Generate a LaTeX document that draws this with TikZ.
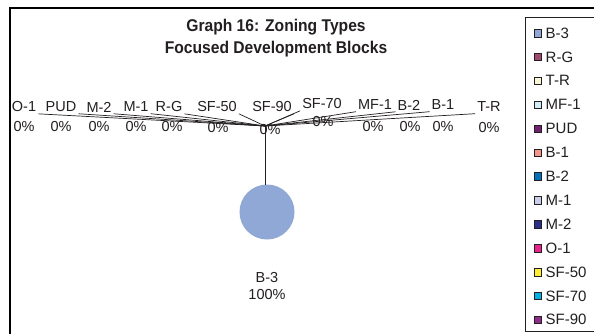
\documentclass[tikz,border=0pt]{standalone}
\usepackage{fontspec}
\setmainfont{Liberation Sans}
\newfontfamily\titlefont[FakeStretch=0.92]{Liberation Sans}
\definecolor{cB3}{RGB}{143,168,214}
\definecolor{cRG}{RGB}{160,72,112}
\definecolor{cTR}{RGB}{248,246,214}
\definecolor{cMF}{RGB}{207,236,247}
\definecolor{cPUD}{RGB}{114,33,112}
\definecolor{cB1}{RGB}{240,150,140}
\definecolor{cB2}{RGB}{0,112,186}
\definecolor{cM1}{RGB}{200,206,232}
\definecolor{cM2}{RGB}{43,47,135}
\definecolor{cO1}{RGB}{232,35,140}
\definecolor{cSFf}{RGB}{255,238,50}
\definecolor{cSFs}{RGB}{0,176,230}
\definecolor{cSFn}{RGB}{140,45,140}
\definecolor{ink}{RGB}{35,31,32}
\begin{document}
\begin{tikzpicture}[x=1pt,y={(0,-1pt)},
  lbl/.style={inner sep=0pt,font=\fontsize{14.5}{17}\selectfont,text=ink},
  ttl/.style={inner sep=0pt,font=\titlefont\fontsize{17}{22.5}\selectfont\bfseries,text=ink,align=center},
  leader/.style={draw=ink,line width=0.7pt},
  legsq/.style={draw=ink,line width=0.4pt,minimum size=7.5pt,inner sep=0pt},
  legtxt/.style={inner sep=0pt,anchor=west,font=\fontsize{15}{17}\selectfont,text=ink}]
\useasboundingbox (0,0) rectangle (594,333);
\fill[white] (0,0) rectangle (594,333);
% chart frame
\draw[line width=2.6pt,black] (10,345) -- (10,8) -- (605,8);
% legend box
\draw[line width=0.7pt,ink] (605,17) -- (525,17) -- (525,331) -- (605,331);
% title
\node[ttl] (title) at (276,38) {Graph 16: Zoning Types\\Focused Development Blocks};
% center point and pie
\coordinate (ctr) at (265,126);
\node[circle,fill=cB3,minimum size=55pt,inner sep=0pt] (pie) at (267,212) {};
\draw[leader] (ctr) -- (265,185);
% labels - names
\node[lbl] (nO1) at (24,107) {O-1};
\node[lbl] (nPUD) at (61,107) {PUD};
\node[lbl] (nM2) at (99,107) {M-2};
\node[lbl] (nM1) at (136,107) {M-1};
\node[lbl] (nRG) at (169,107) {R-G};
\node[lbl] (nSFf) at (217,107) {SF-50};
\node[lbl] (nSFn) at (272,107) {SF-90};
\node[lbl] (nSFs) at (322,104) {SF-70};
\node[lbl] (nMF) at (375,105) {MF-1};
\node[lbl] (nB2) at (409,105) {B-2};
\node[lbl] (nB1) at (443,105) {B-1};
\node[lbl] (nTR) at (489,107) {T-R};
% labels - percentages
\node[lbl] (pO1) at (24,127) {0\%};
\node[lbl] (pPUD) at (61,127) {0\%};
\node[lbl] (pM2) at (99,127) {0\%};
\node[lbl] (pM1) at (136,127) {0\%};
\node[lbl] (pRG) at (172,127) {0\%};
\node[lbl] (pSFf) at (218,128) {0\%};
\node[lbl] (pSFn) at (270,130) {0\%};
\node[lbl] (pSFs) at (323,122) {0\%};
\node[lbl] (pMF) at (373,127) {0\%};
\node[lbl] (pB2) at (410,127) {0\%};
\node[lbl] (pB1) at (443,127) {0\%};
\node[lbl] (pTR) at (489,128) {0\%};
\node[lbl,align=center] (lB3) at (267,286) {B-3\\100\%};
% leader lines
\foreach \n in {nO1,nPUD,nM2,nM1,nRG,nSFf,nSFn}
  \draw[leader] ([xshift=2pt,yshift=-1.5pt]\n.south east) -- (ctr);
\foreach \n in {nSFs,nMF,nB2,nB1,nTR}
  \draw[leader] ([xshift=-2pt,yshift=-1.5pt]\n.south west) -- (ctr);
% legend
\foreach \c/\t [count=\i from 0] in {cB3/B-3,cRG/R-G,cTR/T-R,cMF/MF-1,cPUD/PUD,cB1/B-1,cB2/B-2,cM1/M-1,cM2/M-2,cO1/O-1,cSFf/SF-50,cSFs/SF-70,cSFn/SF-90}{
  \node[legsq,fill=\c] (sq\i) at (537.5,{33+23.9*\i}) {};
  \node[legtxt] (lt\i) at (545.5,{33+23.9*\i}) {\t};
}
\end{tikzpicture}
\end{document}
